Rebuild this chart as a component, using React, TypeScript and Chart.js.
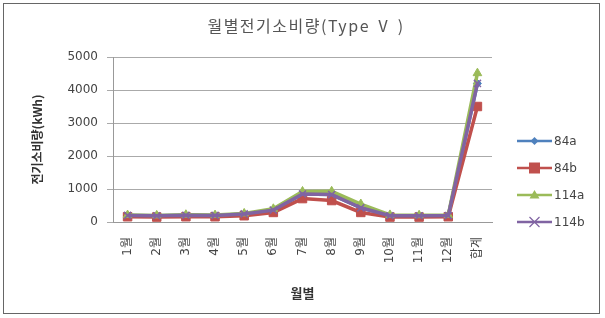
import React, { useEffect, useRef } from "react";
import { Chart, registerables } from "chart.js";

Chart.register(...registerables);

const categories = ["1월", "2월", "3월", "4월", "5월", "6월", "7월", "8월", "9월", "10월", "11월", "12월", "합계"];
const series84a = [200, 190, 205, 200, 245, 355, 850, 830, 440, 190, 190, 195, 4200];
const series84b = [160, 150, 160, 160, 190, 290, 710, 650, 290, 150, 150, 160, 3500];
const series114a = [210, 200, 220, 210, 260, 400, 925, 930, 545, 215, 205, 210, 4510];
const series114b = [200, 190, 205, 200, 245, 360, 850, 830, 430, 190, 190, 195, 4200];
const seriesNames = ["84a", "84b", "114a", "114b"];
const yTicks = [0, 1000, 2000, 3000, 4000, 5000];
const chartTitle = "월별전기소비량(Type Ⅴ )";

const colors = ["#4F81BD", "#C0504D", "#9BBB59", "#8064A2"];
const markers = ["rectRot", "rect", "triangle", "crossRot"];
const markerSizes = [4, 6, 5, 5];

const FONT = "'DejaVu Sans', 'Noto Sans CJK KR', sans-serif";
const KFONT = "'Noto Sans CJK KR', 'DejaVu Sans', sans-serif";

const decorPlugin = {
  id: "excelDecor",
  afterDraw(chart: any) {
    const ctx = chart.ctx;
    const area = chart.chartArea;
    ctx.save();
    // title
    ctx.fillStyle = "#555";
    ctx.font = `16px ${KFONT}`;
    (ctx as any).letterSpacing = "1.5px";
    ctx.textAlign = "center";
    ctx.textBaseline = "middle";
    ctx.fillText(chartTitle, 306, 26);
    (ctx as any).letterSpacing = "0px";

    // legend
    const x0 = area.right + 25;
    const y0 = 141;
    const gap = 27;
    seriesNames.forEach((name, i) => {
      const y = y0 + i * gap;
      ctx.strokeStyle = colors[i];
      ctx.lineWidth = 2.5;
      ctx.beginPath();
      ctx.moveTo(x0, y);
      ctx.lineTo(x0 + 35, y);
      ctx.stroke();
      const style = markers[i];
      const r = markerSizes[i];
      ctx.fillStyle = colors[i];
      ctx.strokeStyle = colors[i];
      const cx = x0 + 17.5;
      ctx.beginPath();
      if (style === "rectRot") {
        ctx.moveTo(cx, y - r);
        ctx.lineTo(cx + r, y);
        ctx.lineTo(cx, y + r);
        ctx.lineTo(cx - r, y);
        ctx.closePath();
        ctx.fill();
      } else if (style === "rect") {
        ctx.rect(cx - r + 0.5, y - r + 0.5, 2 * r - 1, 2 * r - 1);
        ctx.fill();
      } else if (style === "triangle") {
        ctx.moveTo(cx, y - r);
        ctx.lineTo(cx + r, y + r * 0.7);
        ctx.lineTo(cx - r, y + r * 0.7);
        ctx.closePath();
        ctx.fill();
      } else {
        ctx.lineWidth = 1.2;
        ctx.moveTo(cx - r, y - r);
        ctx.lineTo(cx + r, y + r);
        ctx.moveTo(cx + r, y - r);
        ctx.lineTo(cx - r, y + r);
        ctx.stroke();
      }
      ctx.fillStyle = "#444";
      ctx.font = `12px ${FONT}`;
      ctx.textAlign = "left";
      ctx.textBaseline = "middle";
      ctx.fillText(name, x0 + 37, y + 1);
    });
    ctx.restore();
  },
};

export default function App() {
  const ref = useRef<HTMLCanvasElement | null>(null);

  useEffect(() => {
    if (!ref.current) return;
    const data = [series84a, series84b, series114a, series114b];
    const chart = new Chart(ref.current, {
      type: "line",
      data: {
        labels: categories,
        datasets: seriesNames.map((name, i) => ({
          label: name,
          data: data[i],
          borderColor: colors[i],
          backgroundColor: colors[i],
          pointBackgroundColor: colors[i],
          pointBorderColor: colors[i],
          borderWidth: 3.5,
          pointStyle: markers[i] as any,
          pointRadius: markerSizes[i],
          pointBorderWidth: i === 3 ? 1.5 : 1,
          tension: 0,
          order: 3 - i,
        })),
      },
      options: {
        animation: false,
        responsive: false,
        maintainAspectRatio: false,
        layout: { padding: { top: 57, left: 0, right: 113, bottom: 0 } },
        plugins: {
          legend: { display: false },
          tooltip: { enabled: false },
          title: { display: false },
        },
        scales: {
          x: {
            offset: true,
            grid: { display: true, drawOnChartArea: false, drawTicks: false, color: "#999", offset: true },
            border: { display: true, color: "#999", width: 1 },
            ticks: {
              color: "#444",
              font: { family: FONT, size: 12 },
              maxRotation: 90,
              minRotation: 90,
              padding: 15,
              autoSkip: false,
            },
            title: {
              display: true,
              text: "월별",
              color: "#333",
              font: { family: KFONT, size: 13, weight: "bold" },
              padding: { top: 0, bottom: 17 },
            },
            afterFit: (s: any) => {
              s.height = 96;
            },
          },
          y: {
            min: 0,
            max: 5000,
            afterBuildTicks: (s: any) => {
              s.ticks = yTicks.map((v) => ({ value: v }));
            },
            grid: { color: "#aaa", lineWidth: 1, drawTicks: true, tickLength: 6 },
            border: { display: true, color: "#999", width: 1 },
            ticks: {
              color: "#444",
              font: { family: FONT, size: 12 },
              padding: 9,
              callback: (v: any) => String(v),
            },
            title: {
              display: true,
              text: "전기소비량(kWh)",
              color: "#333",
              font: { family: KFONT, size: 12, weight: "bold" },
              padding: { top: 30, bottom: 0 },
            },
            afterFit: (s: any) => {
              s.width = 113;
            },
          },
        },
      },
      plugins: [decorPlugin],
    });
    return () => chart.destroy();
  }, []);

  return (
    <div style={{ position: "fixed", left: 0, top: 0, width: 605, height: 318, background: "#fff" }}>
      <canvas ref={ref} width={605} height={318} style={{ position: "absolute", left: 0, top: 0 }} />
      <div
        style={{
          position: "absolute",
          left: 3,
          top: 3,
          width: 597,
          height: 311,
          border: "1.5px solid #666",
          boxSizing: "border-box",
          pointerEvents: "none",
        }}
      />
    </div>
  );
}
